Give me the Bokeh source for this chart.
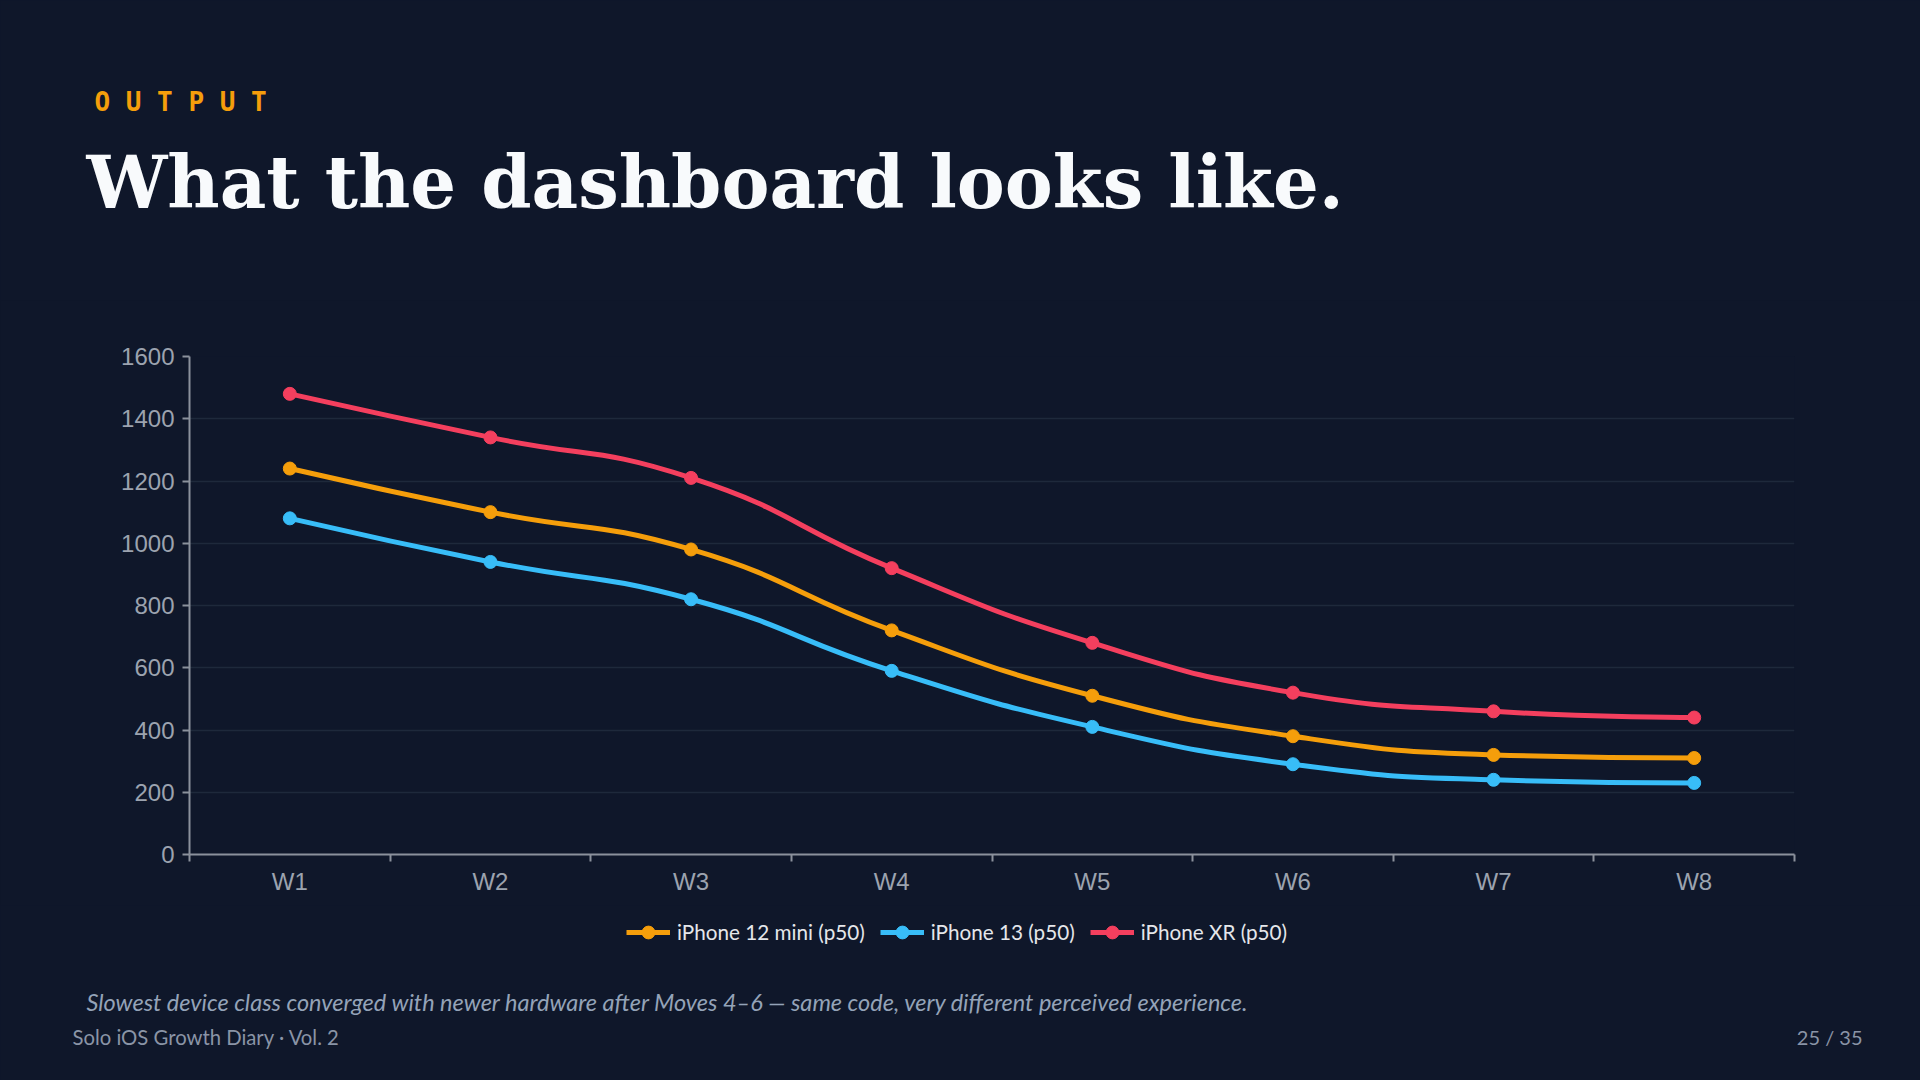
import math
from bokeh.plotting import figure
from bokeh.layouts import column
from bokeh.models import Range1d, FixedTicker, Legend, LegendItem
from bokeh.core.properties import value
from bokeh.embed import file_html
from bokeh.resources import INLINE

# ---------------- data ----------------
weeks = ["W1", "W2", "W3", "W4", "W5", "W6", "W7", "W8"]
iphone_12_mini = [1240, 1100, 980, 720, 510, 380, 320, 310]
iphone_13 = [1080, 940, 820, 590, 410, 290, 240, 230]
iphone_xr = [1480, 1340, 1210, 920, 680, 520, 460, 440]
series_names = ["iPhone 12 mini (p50)", "iPhone 13 (p50)", "iPhone XR (p50)"]
y_ticks = [0, 200, 400, 600, 800, 1000, 1200, 1400, 1600]

kicker = "O U T P U T"
title_text = "What the dashboard looks like."
caption_text = ("Slowest device class converged with newer hardware after Moves 4\u20136 "
                "\u2014 same code, very different perceived experience.")
footer_left = "Solo iOS Growth Diary \u00b7 Vol. 2"
footer_right = "25 / 35"

# ---------------- style ----------------
BG = "#0f172a"
COLORS = ["#f59e0b", "#38bdf8", "#f43f5e"]
AXIS_GRAY = "#8b919c"
LABEL_GRAY = "#9ca3af"
GRID = "#1e293b"
BASE_SHIFT = 0.38   # empirical baseline correction (fraction of font size)

W = 1920
TOP_H = 300
ML, MR, MT, MB = 189, 126, 56, 51
FH = 498
MAIN_H = MT + FH + MB
BOT_H = 1080 - TOP_H - MAIN_H
FW = W - ML - MR

n = len(weeks)
xs = [i + 0.5 for i in range(n)]
SX = FW / n          # px per category
SY = FH / 1600.0     # px per unit


def smooth_segments(vals, k=0.5):
    """ECharts-like smooth bezier control points, computed in pixel space."""
    px = [x * SX for x in xs]
    py = [v * SY for v in vals]
    segs = []
    cpx0, cpy0 = px[0], py[0]
    for i in range(1, n):
        x, y = px[i], py[i]
        prevX, prevY = px[i - 1], py[i - 1]
        if i == n - 1:
            cpx1, cpy1 = x, y
            ncx, ncy = x, y
        else:
            nextX, nextY = px[i + 1], py[i + 1]
            vx, vy = nextX - prevX, nextY - prevY
            l0 = math.hypot(x - prevX, y - prevY)
            l1 = math.hypot(nextX - x, nextY - y)
            r = l1 / (l0 + l1)
            ncx = x + vx * k * r
            ncy = y + vy * k * r
            ncx = min(ncx, max(nextX, x)); ncy = min(ncy, max(nextY, y))
            ncx = max(ncx, min(nextX, x)); ncy = max(ncy, min(nextY, y))
            vx, vy = ncx - x, ncy - y
            cpx1 = x - vx * l0 / l1
            cpy1 = y - vy * l0 / l1
            cpx1 = min(cpx1, max(prevX, x)); cpy1 = min(cpy1, max(prevY, y))
            cpx1 = max(cpx1, min(prevX, x)); cpy1 = max(cpy1, min(prevY, y))
            vx, vy = x - cpx1, y - cpy1
            ncx = x + vx * l1 / l0
            ncy = y + vy * l1 / l0
        segs.append((prevX / SX, prevY / SY, x / SX, y / SY,
                     cpx0 / SX, cpy0 / SY, cpx1 / SX, cpy1 / SY))
        cpx0, cpy0 = ncx, ncy
    cols = list(zip(*segs))
    return dict(x0=list(cols[0]), y0=list(cols[1]), x1=list(cols[2]), y1=list(cols[3]),
                cx0=list(cols[4]), cy0=list(cols[5]), cx1=list(cols[6]), cy1=list(cols[7]))


def text_panel(height):
    f = figure(width=W, height=height, output_backend="svg", toolbar_location=None,
               x_range=Range1d(0, W), y_range=Range1d(height, 0),
               x_axis_type=None, y_axis_type=None,
               min_border=0, min_border_left=0, min_border_right=0,
               min_border_top=0, min_border_bottom=0, frame_align=False,
               background_fill_color=BG, border_fill_color=BG, outline_line_color=None)
    f.xgrid.visible = False
    f.ygrid.visible = False
    return f


def put_text(fig, txt, x, baseline, size, font, y0=0, **kw):
    fig.text(x=[x], y=[baseline - y0 - BASE_SHIFT * size], text=[txt],
             text_font=value(font), text_font_size=f"{size}px",
             text_baseline="alphabetic", **kw)


# ---------------- header ----------------
top = text_panel(TOP_H)
put_text(top, kicker, 94, 111, 26, "DejaVu Sans Mono", text_font_style="bold",
         text_color="#f59e0b")
put_text(top, title_text, 86, 209, 72, "DejaVu Serif", text_font_style="bold",
         text_color="#f8fafc")

# ---------------- chart ----------------
p = figure(width=W, height=MAIN_H, output_backend="svg", toolbar_location=None,
           x_range=Range1d(0, n), y_range=Range1d(0, 1600), frame_align=False,
           min_border_left=ML, min_border_right=MR, min_border_top=MT, min_border_bottom=MB,
           background_fill_color=BG, border_fill_color=BG, outline_line_color=None)

p.xaxis.ticker = FixedTicker(ticks=xs, minor_ticks=list(range(n + 1)))
p.xaxis.major_label_overrides = {x: w for x, w in zip(xs, weeks)}
p.xaxis.major_tick_out = 0
p.xaxis.major_tick_in = 0
p.xaxis.minor_tick_out = 7
p.xaxis.minor_tick_in = 0
p.xaxis.minor_tick_line_color = AXIS_GRAY
p.xaxis.minor_tick_line_width = 2
p.xaxis.major_label_standoff = 6

p.yaxis.ticker = FixedTicker(ticks=y_ticks, minor_ticks=[])
p.yaxis.major_tick_out = 7
p.yaxis.major_tick_in = 0
p.yaxis.major_label_standoff = 8

for ax in (p.xaxis, p.yaxis):
    ax.axis_line_color = AXIS_GRAY
    ax.axis_line_width = 2
    ax.major_tick_line_color = AXIS_GRAY
    ax.major_tick_line_width = 2
    ax.major_label_text_color = LABEL_GRAY
    ax.major_label_text_font = "Liberation Sans"
    ax.major_label_text_font_size = "24px"

p.xgrid.grid_line_color = None
p.ygrid.ticker = FixedTicker(ticks=y_ticks[1:])
p.ygrid.grid_line_color = GRID
p.ygrid.grid_line_width = 1.5

for vals, col in zip([iphone_12_mini, iphone_13, iphone_xr], COLORS):
    p.bezier(source=smooth_segments(vals), x0="x0", y0="y0", x1="x1", y1="y1",
             cx0="cx0", cy0="cy0", cx1="cx1", cy1="cy1", line_color=col, line_width=5)
    p.scatter(x=xs, y=vals, size=13, marker="circle", fill_color=col, line_color=col)

# ---------------- footer: legend, caption, page info ----------------
bot = text_panel(BOT_H)
items = []
for name, col in zip(series_names, COLORS):
    # off-canvas sample so the legend has a glyph to draw
    ln = bot.line(x=[-50, -40], y=[-50, -50], line_color=col, line_width=5)
    mk = bot.scatter(x=[-50], y=[-50], size=13, marker="circle", fill_color=col, line_color=col)
    items.append(LegendItem(label=name, renderers=[ln, mk]))
legend = Legend(items=items, orientation="horizontal", location=(626, 132),
                label_text_font="Lato", label_text_font_size="20.7px", label_text_color="#e5e7eb",
                glyph_width=44, glyph_height=32, label_standoff=7, spacing=15,
                padding=0, margin=0, background_fill_alpha=0, border_line_alpha=0,
                label_height=20)
bot.add_layout(legend, "center")

Y0 = TOP_H + MAIN_H
put_text(bot, caption_text, 86, 1010, 23.5, "Lato", y0=Y0, text_font_style="italic",
         text_color="#94a3b8")
put_text(bot, footer_left, 72, 1044, 20.3, "Lato", y0=Y0, text_color="#8a94a6")
put_text(bot, footer_right, 1862, 1044, 20, "Lato", y0=Y0, text_color="#8a94a6",
         text_align="right")

page = column(top, p, bot, spacing=0)

template = """
{% block postamble %}
<style>html, body { background: #0f172a; }</style>
{% endblock %}
"""
open("out.html", "w").write(file_html(page, INLINE, template=template))
